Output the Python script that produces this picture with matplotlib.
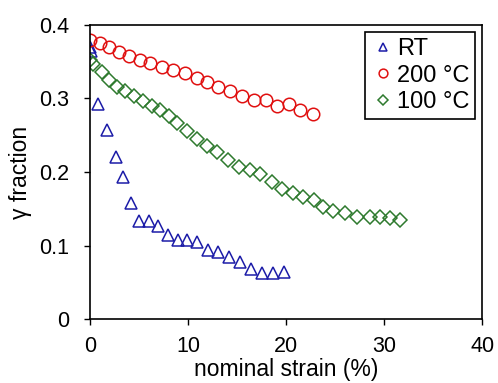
import matplotlib
matplotlib.use("Agg")
import matplotlib.pyplot as plt

plt.rcParams['font.family'] = ['Liberation Sans', 'DejaVu Sans']

# RT
rt_strain = [0, 0.1, 0.8, 1.7, 2.6, 3.4, 4.2, 5.0, 6.0, 6.9, 7.9, 9.0, 9.9, 10.9,
             12.0, 13.0, 14.2, 15.3, 16.4, 17.5, 18.7, 19.8]
rt_gamma = [0.37, 0.365, 0.293, 0.257, 0.22, 0.193, 0.158, 0.133, 0.133, 0.127,
            0.114, 0.107, 0.107, 0.105, 0.094, 0.091, 0.085, 0.078, 0.068, 0.063,
            0.063, 0.064]

# 200 C
t200_strain = [0, 1.0, 1.9, 2.9, 4.0, 5.1, 6.1, 7.3, 8.5, 9.7, 10.9, 11.9, 13.0,
               14.3, 15.5, 16.7, 17.9, 19.1, 20.3, 21.4, 22.7]
t200_gamma = [0.38, 0.375, 0.37, 0.363, 0.358, 0.352, 0.348, 0.343, 0.339, 0.335,
              0.328, 0.323, 0.316, 0.31, 0.303, 0.298, 0.298, 0.29, 0.293, 0.284,
              0.279]

# 100 C
t100_strain = [0, 0.3, 1.2, 1.9, 2.7, 3.6, 4.5, 5.4, 6.3, 7.1, 8.0, 8.9, 9.9, 10.9,
               11.9, 12.9, 14.1, 15.2, 16.3, 17.3, 18.6, 19.6, 20.7, 21.7, 22.8,
               23.8, 24.8, 26.0, 27.2, 28.6, 29.6, 30.6, 31.6]
t100_gamma = [0.352, 0.347, 0.336, 0.325, 0.316, 0.31, 0.303, 0.296, 0.29, 0.284,
              0.276, 0.266, 0.256, 0.245, 0.235, 0.227, 0.216, 0.207, 0.203, 0.197,
              0.186, 0.177, 0.171, 0.166, 0.162, 0.153, 0.147, 0.144, 0.139, 0.139,
              0.139, 0.137, 0.135]

fig = plt.figure(figsize=(4.98, 3.83), dpi=100)
ax = fig.add_axes([0.181, 0.167, 0.787, 0.768])

ax.plot(rt_strain, rt_gamma, linestyle='none', marker='^', markersize=9,
        markerfacecolor='none', markeredgecolor='#1c1ca8', markeredgewidth=1.1, label='RT')
ax.plot(t200_strain, t200_gamma, linestyle='none', marker='o', markersize=9,
        markerfacecolor='none', markeredgecolor='#e01010', markeredgewidth=1.1, label='200 °C')
ax.plot(t100_strain, t100_gamma, linestyle='none', marker='D', markersize=7.5,
        markerfacecolor='none', markeredgecolor='#2e7a2e', markeredgewidth=1.1, label='100 °C')

ax.set_xlim(0, 40)
ax.set_ylim(0, 0.4)
ax.set_xticks([0, 10, 20, 30, 40])
ax.set_yticks([0, 0.1, 0.2, 0.3, 0.4])
ax.set_yticklabels(['0', '0.1', '0.2', '0.3', '0.4'])
ax.tick_params(direction='out', length=4, width=1, labelsize=15.5)
ax.tick_params(axis='y', pad=11)
ax.tick_params(axis='x', pad=8)

for sp in ax.spines.values():
    sp.set_color('black')
    sp.set_linewidth(1.2)

ax.set_xlabel('nominal strain (%)', fontsize=16.5, labelpad=1)
ax.set_ylabel('γ fraction', fontsize=16.5, labelpad=5)

leg = ax.legend(loc='upper right', fontsize=17, markerscale=0.7, handletextpad=0.1,
                handlelength=1.0, borderpad=0.25, labelspacing=0.2, fancybox=False,
                framealpha=1, borderaxespad=0.3)
leg.get_frame().set_edgecolor('black')
leg.get_frame().set_linewidth(1.2)

fig.savefig('out.png', dpi=100)
